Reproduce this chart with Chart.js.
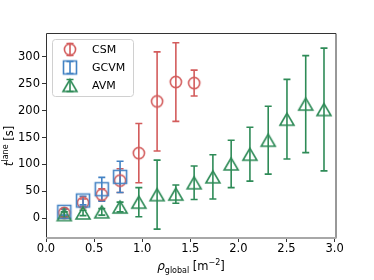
<!DOCTYPE html>
<html>
<head>
<meta charset="UTF-8">
<title>t_lane vs rho</title>
<script src="https://cdn.jsdelivr.net/npm/chart.js"></script>
<style>
    body { margin: 0; padding: 0; background: #fff; }
    #wrap { width: 374px; height: 280px; position: relative; }
</style>
</head>
<body>
<div id="wrap"><canvas id="myChart" width="374" height="280"></canvas></div>
<script>
// densities (1/m^2)
const rho = [0.19, 0.385, 0.58, 0.77, 0.965, 1.155, 1.35, 1.54, 1.735, 1.925, 2.12, 2.31, 2.505, 2.70, 2.89];

const csmMean = [10, 29, 44, 70, 121, 217, 253, 251];
const csmErr  = [7, 7, 11, 22, 55, 92, 73, 24];

const gcvmMean = [12, 33, 54, 77];
const gcvmErr  = [6, 8, 22, 29];

const avmMean = [7, 10, 12, 21, 30, 44, 45, 66, 77, 101, 119, 145, 184, 212, 202];
const avmErr  = [5, 5, 6, 9, 27, 64, 17, 31, 41, 44, 50, 63, 74, 90, 114];

const xTicks = [0, 0.5, 1.0, 1.5, 2.0, 2.5, 3.0];
const yTicks = [0, 50, 100, 150, 200, 250, 300];

const labels = ['CSM', 'GCVM', 'AVM'];
const colors = ['#d35c5c', '#4282c4', '#2e8b57'];
const FONT = "'DejaVu Sans', sans-serif";

// hollow marker images
function makeMarker(kind, color) {
    const c = document.createElement('canvas');
    const s = 18;
    c.width = s; c.height = s;
    const g = c.getContext('2d');
    g.strokeStyle = color;
    g.lineWidth = 1.6;
    g.beginPath();
    if (kind === 'circle') {
        g.arc(9, 9, 5.6, 0, Math.PI * 2);
    } else if (kind === 'square') {
        g.rect(2.5, 2.5, 13, 13);
    } else {
        g.moveTo(9, 3);
        g.lineTo(2, 15);
        g.lineTo(16, 15);
        g.closePath();
    }
    g.stroke();
    return c;
}
const markers = [
    makeMarker('circle', colors[0]),
    makeMarker('square', colors[1]),
    makeMarker('triangle', colors[2])
];

function pts(mean) {
    return mean.map((v, i) => ({ x: rho[i], y: v }));
}
const errs = [csmErr, gcvmErr, avmErr];

const errorBars = {
    id: 'errorBars',
    beforeDatasetsDraw(chart) {
        const ctx = chart.ctx;
        const xs = chart.scales.x, ys = chart.scales.y;
        ctx.save();
        ctx.beginPath();
        ctx.rect(chart.chartArea.left, chart.chartArea.top, chart.chartArea.width, chart.chartArea.height);
        ctx.clip();
        chart.data.datasets.forEach((ds, k) => {
            ctx.strokeStyle = colors[k];
            ctx.lineWidth = 1.6;
            ds.data.forEach((p, i) => {
                const px = xs.getPixelForValue(p.x);
                const top = ys.getPixelForValue(p.y + errs[k][i]);
                const bot = ys.getPixelForValue(p.y - errs[k][i]);
                ctx.beginPath();
                ctx.moveTo(px, top); ctx.lineTo(px, bot);
                ctx.moveTo(px - 3.5, top); ctx.lineTo(px + 3.5, top);
                ctx.moveTo(px - 3.5, bot); ctx.lineTo(px + 3.5, bot);
                ctx.stroke();
            });
        });
        ctx.restore();
    }
};

function drawPieces(ctx, pieces, x, y) {
    // pieces: [text, font, dy]
    let w = 0;
    pieces.forEach(p => { ctx.font = p[1]; w += ctx.measureText(p[0]).width; });
    let cx = x - w / 2;
    pieces.forEach(p => {
        ctx.font = p[1];
        ctx.fillText(p[0], cx, y + p[2]);
        cx += ctx.measureText(p[0]).width;
    });
}

const decorations = {
    id: 'decorations',
    afterDraw(chart) {
        const ctx = chart.ctx;
        const a = chart.chartArea;
        ctx.save();
        // frame
        ctx.strokeStyle = '#333';
        ctx.lineWidth = 1;
        ctx.beginPath();
        ctx.moveTo(a.left + 0.5, a.bottom);
        ctx.lineTo(a.left + 0.5, a.top + 0.5);
        ctx.lineTo(a.right - 0.5, a.top + 0.5);
        ctx.lineTo(a.right - 0.5, a.bottom);
        ctx.stroke();
        ctx.strokeStyle = '#a8a8a8';
        ctx.lineWidth = 2;
        ctx.beginPath();
        ctx.moveTo(a.left, a.bottom);
        ctx.lineTo(a.right, a.bottom);
        ctx.stroke();

        // legend
        ctx.fillStyle = 'rgba(255,255,255,0.85)';
        ctx.strokeStyle = '#d0d0d0';
        ctx.lineWidth = 1;
        ctx.beginPath();
        ctx.roundRect(52.5, 39.5, 81, 57, 3);
        ctx.fill();
        ctx.stroke();
        ctx.textBaseline = 'middle';
        ctx.textAlign = 'left';
        labels.forEach((lab, k) => {
            const my = 49.5 + k * 18;
            ctx.strokeStyle = colors[k];
            ctx.lineWidth = 1.6;
            ctx.beginPath();
            ctx.moveTo(70, my - 6); ctx.lineTo(70, my + 6);
            ctx.moveTo(66.5, my - 6); ctx.lineTo(73.5, my - 6);
            ctx.moveTo(66.5, my + 6); ctx.lineTo(73.5, my + 6);
            ctx.stroke();
            ctx.drawImage(markers[k], 61, my - 9);
            ctx.fillStyle = '#000';
            ctx.font = '11px ' + FONT;
            ctx.fillText(lab, 92, my + 0.5);
        });

        // axis labels
        ctx.fillStyle = '#000';
        ctx.textBaseline = 'alphabetic';
        ctx.textAlign = 'left';
        drawPieces(ctx, [
            ['\u03c1', 'italic 12px ' + FONT, 0],
            ['global', '8px ' + FONT, 2.5],
            [' [m', '11.5px ' + FONT, 0],
            ['\u22122', '8px ' + FONT, -5],
            [']', '11.5px ' + FONT, 0]
        ], 191, 270);

        ctx.translate(13, 146);
        ctx.rotate(-Math.PI / 2);
        drawPieces(ctx, [
            ['t', 'italic 12px ' + FONT, 0],
            ['lane', '8px ' + FONT, -5],
            [' [s]', '11.5px ' + FONT, 0]
        ], 0, 0);
        ctx.restore();
    }
};

const ctx = document.getElementById('myChart').getContext('2d');
const myChart = new Chart(ctx, {
    type: 'scatter',
    data: {
        datasets: [
            { label: labels[0], data: pts(csmMean), pointStyle: markers[0], order: 3 },
            { label: labels[1], data: pts(gcvmMean), pointStyle: markers[1], order: 2 },
            { label: labels[2], data: pts(avmMean), pointStyle: markers[2], order: 1 }
        ]
    },
    options: {
        responsive: false,
        animation: false,
        events: [],
        layout: { padding: { top: 33, right: 37.5, left: 0, bottom: 0 } },
        plugins: { legend: { display: false }, tooltip: { enabled: false } },
        scales: {
            x: {
                type: 'linear',
                min: 0,
                max: 3.02,
                afterBuildTicks: axis => { axis.ticks = xTicks.map(v => ({ value: v })); },
                afterFit: scale => { scale.height = 42; },
                ticks: {
                    callback: v => v.toFixed(1),
                    font: { family: FONT, size: 11.5 },
                    color: '#000',
                    padding: 0,
                    maxRotation: 0,
                    autoSkip: false
                },
                grid: { drawOnChartArea: false, drawTicks: true, tickLength: 4, color: '#333' },
                border: { display: false }
            },
            y: {
                type: 'linear',
                min: -36.5,
                max: 344,
                afterBuildTicks: axis => { axis.ticks = yTicks.map(v => ({ value: v })); },
                afterFit: scale => { scale.width = 46; },
                ticks: {
                    callback: v => String(v),
                    font: { family: FONT, size: 11.5 },
                    color: '#000',
                    padding: 2,
                    autoSkip: false
                },
                grid: { drawOnChartArea: false, drawTicks: true, tickLength: 4, color: '#333' },
                border: { display: false }
            }
        }
    },
    plugins: [errorBars, decorations]
});
</script>
</body>
</html>
